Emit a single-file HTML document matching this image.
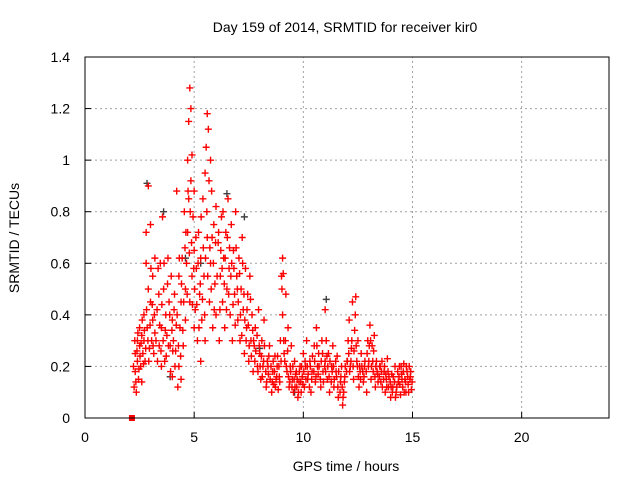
<!DOCTYPE html>
<html><head><meta charset="utf-8"><style>
body{margin:0;background:#fff}
svg text{font-family:"Liberation Sans",sans-serif;font-size:14px;fill:#000}
</style></head><body>
<svg id="chart" width="640" height="480">
<text x="345" y="32" text-anchor="middle">Day 159 of 2014, SRMTID for receiver kir0</text>
<text x="0" y="0" transform="translate(19,238) rotate(-90)" text-anchor="middle">SRMTID / TECUs</text>
<text x="346" y="471" text-anchor="middle">GPS time / hours</text>
<g id="grid"></g><g id="ticks"></g><g id="gray"></g><g id="red"></g>
<rect x="85" y="57" width="524" height="361" fill="none" stroke="#000" stroke-width="1"/>
</svg>
<script>
const xTicks=[0,5,10,15,20];
const yTicks=[0,0.2,0.4,0.6,0.8,1,1.2,1.4];
const yTickLabels=["0","0.2","0.4","0.6","0.8","1","1.2","1.4"];
const redT=[2.25,2.3,2.3,2.35,2.4,2.4,2.45,2.5,2.5,2.55,2.6,2.6,
2.65,2.7,2.7,2.75,2.8,2.8,2.85,2.9,2.9,2.95,3.0,3.0,3.05,3.1,3.1,3.15,3.2,3.2,
3.3,3.35,3.4,3.45,3.5,3.5,3.55,3.6,3.65,3.7,3.75,3.8,3.85,3.9,3.95,4.0,4.0,4.05,4.1,4.15,4.2,
4.25,4.3,4.3,4.35,4.4,4.4,4.45,4.5,4.55,4.6,4.6,
4.65,4.7,4.7,4.75,4.75,4.8,4.8,4.85,4.85,4.9,4.9,4.95,5.0,5.0,5.0,
5.05,5.1,5.15,5.2,5.25,5.3,5.3,5.35,5.4,5.45,5.5,5.5,
5.55,5.6,5.6,5.65,5.7,5.75,5.75,5.8,5.85,5.9,5.95,6.0,6.0,
6.1,6.15,6.2,6.25,6.3,6.35,6.4,6.45,6.5,6.55,6.6,6.65,6.7,6.75,6.8,6.85,6.9,6.95,7.0,
7.05,7.1,7.15,7.2,7.25,7.3,7.35,7.4,7.45,7.5,7.55,7.6,7.65,7.7,7.75,
7.8,7.9,7.95,8.0,8.05,8.1,8.15,8.2,8.3,8.35,8.4,8.45,
8.55,8.6,8.65,8.7,8.75,8.8,8.85,8.9,8.95,
9.0,9.05,9.05,9.1,9.15,9.2,9.25,9.3,
9.35,9.4,9.45,9.5,9.55,9.6,9.65,9.7,9.75,9.8,9.85,9.9,9.95,
10.0,10.05,10.1,10.15,10.2,10.3,10.35,10.4,10.5,10.55,10.6,10.65,10.7,10.8,10.85,10.9,11.0,11.0,
11.05,11.1,11.15,11.2,11.3,11.35,11.4,11.5,11.55,11.6,11.7,11.75,11.8,11.85,11.9,12.0,
12.05,12.1,12.15,12.2,12.25,12.3,12.35,12.4,12.45,12.5,12.55,12.6,12.65,
12.75,12.8,12.9,12.95,13.0,13.05,13.1,13.15,13.2,13.25,13.3,13.35,13.4,13.5,
13.55,13.6,13.7,13.75,13.8,13.85,13.9,14.0,14.05,14.1,14.2,14.25,
14.35,14.4,14.45,14.5,14.55,14.6,14.65,14.7,14.75,14.8,14.85,14.9,14.95];
const redV=[0.12,0.18,0.25,0.1,0.3,0.22,0.15,0.28,0.35,0.2,0.32,0.14,
0.25,0.4,0.3,0.22,0.6,0.72,0.35,0.9,0.5,0.27,0.45,0.75,0.3,0.38,0.55,0.25,0.62,0.33,
0.42,0.58,0.28,0.6,0.2,0.35,0.78,0.5,0.22,0.4,0.32,0.62,0.45,0.28,0.55,0.38,0.16,0.3,0.48,0.26,0.88,
0.12,0.2,0.55,0.35,0.15,0.45,0.62,0.28,0.8,0.5,0.38,
0.6,1.0,0.72,1.15,0.85,1.28,0.45,1.2,0.92,1.02,0.55,0.78,0.35,0.65,0.88,
0.42,0.58,0.3,0.72,0.48,0.22,0.62,0.38,0.85,0.55,0.3,0.95,
1.05,1.18,0.7,1.12,0.45,1.0,0.6,0.88,0.35,0.75,0.52,0.82,0.4,
0.68,0.3,0.55,0.78,0.45,0.62,0.35,0.72,0.5,0.85,0.58,0.4,0.75,0.3,0.65,0.48,0.8,0.55,0.38,
0.62,0.3,0.5,0.7,0.42,0.25,0.58,0.35,0.48,0.22,0.55,0.3,0.4,0.18,0.28,
0.35,0.2,0.42,0.25,0.15,0.3,0.2,0.38,0.12,0.22,0.17,0.28,
0.1,0.18,0.13,0.24,0.15,0.2,0.11,0.16,0.3,
0.55,0.62,0.4,0.3,0.22,0.48,0.18,0.35,
0.12,0.2,0.28,0.15,0.1,0.22,0.17,0.12,0.08,0.14,0.2,0.1,0.16,
0.25,0.12,0.2,0.3,0.15,0.22,0.1,0.18,0.28,0.14,0.35,0.2,0.25,0.12,0.3,0.18,0.42,0.22,
0.3,0.15,0.25,0.1,0.2,0.28,0.12,0.18,0.24,0.08,0.14,0.2,0.05,0.1,0.16,0.22,
0.3,0.38,0.2,0.27,0.45,0.15,0.34,0.47,0.22,0.3,0.12,0.18,0.25,
0.14,0.2,0.1,0.3,0.22,0.36,0.15,0.28,0.18,0.32,0.12,0.22,0.17,0.2,
0.14,0.22,0.18,0.1,0.15,0.23,0.12,0.08,0.17,0.12,0.2,0.1,
0.14,0.2,0.09,0.17,0.12,0.21,0.15,0.1,0.18,0.13,0.2,0.16,0.11];
const redT2=[2.22,2.28,2.33,2.38,2.42,2.47,2.52,2.57,2.62,2.68,2.72,2.78,2.82,2.88,2.92,2.98,3.02,3.08,3.12,3.18,
3.25,3.32,3.38,3.42,3.48,3.52,3.58,3.62,3.68,3.72,3.78,3.82,3.88,3.92,3.98,4.02,4.08,4.12,4.18,
4.22,4.28,4.32,4.38,4.42,4.48,4.52,4.58,4.62,4.68,4.72,4.78,4.82,4.88,4.92,4.98,
5.02,5.08,5.12,5.18,5.22,5.28,5.32,5.38,5.42,5.48,5.52,5.58,5.62,5.68,5.72,5.78,5.82,5.88,5.92,5.98,
6.05,6.12,6.18,6.22,6.28,6.32,6.38,6.42,6.48,6.52,6.58,6.62,6.68,6.72,6.78,6.82,6.88,6.92,6.98,
7.02,7.08,7.12,7.18,7.22,7.28,7.32,7.38,7.42,7.48,7.52,7.58,7.62,7.68,7.72,7.78,7.82,7.88,7.92,7.98,
8.02,8.08,8.12,8.18,8.22,8.28,8.32,8.38,8.42,8.48,8.52,8.58,8.62,8.68,8.72,8.78,8.82,8.88,8.92,8.98,
9.02,9.08,9.12,9.18,9.22,9.28,9.32,9.38,9.42,9.48,9.52,9.58,9.62,9.68,9.72,9.78,9.82,9.88,9.92,9.98,
10.02,10.08,10.12,10.18,10.22,10.28,10.32,10.38,10.42,10.48,10.52,10.58,10.62,10.68,10.72,10.78,10.82,10.88,10.92,10.98,
11.02,11.08,11.12,11.18,11.22,11.28,11.32,11.38,11.42,11.48,11.52,11.58,11.62,11.68,11.72,11.78,11.82,11.88,11.92,11.98,
12.02,12.08,12.12,12.18,12.22,12.28,12.32,12.38,12.42,12.48,12.52,12.58,12.62,12.68,12.72,12.78,12.82,12.88,12.92,12.98,
13.02,13.08,13.12,13.18,13.22,13.28,13.32,13.38,13.42,13.48,13.52,13.58,13.62,13.68,13.72,13.78,13.82,13.88,13.92,13.98,
14.02,14.08,14.12,14.18,14.22,14.28,14.32,14.38,14.42,14.48,14.52,14.58,14.62,14.68,14.72,14.78,14.82,14.88,14.92,14.98];
const redV2=[0.2,0.3,0.14,0.26,0.33,0.19,0.24,0.29,0.38,0.21,0.34,0.27,0.42,0.3,0.22,0.36,0.58,0.44,0.28,0.4,
0.3,0.22,0.48,0.36,0.26,0.44,0.3,0.6,0.34,0.24,0.52,0.28,0.4,0.18,0.34,0.26,0.42,0.2,0.36,
0.4,0.28,0.62,0.24,0.52,0.34,0.45,0.66,0.72,0.48,0.88,0.64,0.8,0.68,0.44,0.58,
0.5,0.7,0.44,0.6,0.35,0.52,0.78,0.46,0.66,0.4,0.62,0.8,0.55,0.92,0.66,0.5,0.7,0.6,0.42,0.68,
0.55,0.72,0.42,0.65,0.58,0.8,0.52,0.62,0.42,0.7,0.48,0.66,0.55,0.6,0.44,0.58,0.36,0.66,0.5,
0.45,0.56,0.4,0.32,0.6,0.48,0.38,0.3,0.42,0.36,0.28,0.46,0.24,0.34,0.3,0.22,0.26,0.32,0.18,0.28,
0.2,0.24,0.16,0.22,0.28,0.18,0.14,0.2,0.24,0.15,0.2,0.14,0.22,0.18,0.12,0.16,0.24,0.2,0.14,0.22,
0.5,0.56,0.25,0.3,0.2,0.26,0.16,0.14,0.18,0.12,0.2,0.15,0.12,0.18,0.15,0.1,0.18,0.14,0.2,0.13,
0.18,0.22,0.15,0.2,0.17,0.12,0.2,0.15,0.24,0.18,0.22,0.16,0.28,0.17,0.2,0.15,0.22,0.25,0.14,0.2,
0.18,0.24,0.2,0.16,0.22,0.14,0.18,0.2,0.15,0.22,0.16,0.12,0.18,0.1,0.16,0.12,0.08,0.14,0.2,0.18,
0.22,0.25,0.18,0.22,0.3,0.2,0.26,0.4,0.28,0.2,0.16,0.2,0.15,0.2,0.18,0.16,0.22,0.18,0.25,0.2,
0.28,0.3,0.2,0.22,0.26,0.16,0.2,0.18,0.14,0.16,0.2,0.18,0.12,0.15,0.2,0.17,0.12,0.18,0.16,0.14,
0.12,0.1,0.16,0.14,0.08,0.12,0.18,0.16,0.13,0.2,0.15,0.18,0.1,0.14,0.2,0.16,0.1,0.15,0.18,0.14];
const grayT=[2.84,3.6,3.9,4.6,5.3,6.5,7.3,8.0,9.6,11.05];
const grayV=[0.91,0.8,0.16,0.62,0.6,0.87,0.78,0.27,0.1,0.46];
const squareT=[2.15];
const squareV=[0];

const NS="http://www.w3.org/2000/svg";
const X0=85,X1=609,Y0=418,Y1=57,XMAX=24,YMAX=1.4;
function xs(t){return X0+(X1-X0)*t/XMAX;}
function ys(v){return Y0-(Y0-Y1)*v/YMAX;}
function mk(tag,attrs,parent){const e=document.createElementNS(NS,tag);for(const k in attrs)e.setAttribute(k,attrs[k]);parent.appendChild(e);return e;}
const grid=document.getElementById('grid'),ticks=document.getElementById('ticks');
xTicks.forEach((t,i)=>{
  const x=xs(t);
  if(t>0){const g=mk('line',{x1:x,x2:x,y1:Y0,y2:Y1,stroke:'#a0a0a0','stroke-dasharray':'2,3'},grid);
  
  }
  const l=mk('line',{x1:x,x2:x,y1:Y0,y2:Y0-6,stroke:'#000'},ticks);
  
  
  const tx=mk('text',{x:x,y:Y0+24,'text-anchor':'middle'},ticks);tx.textContent=String(t);
  
  
});
yTicks.forEach((v,i)=>{
  const y=ys(v);
  if(v>0&&v<YMAX){const g=mk('line',{x1:X0,x2:X1,y1:y,y2:y,stroke:'#a0a0a0','stroke-dasharray':'2,3'},grid);
  
  }
  const l=mk('line',{x1:X0,x2:X0+6,y1:y,y2:y,stroke:'#000'},ticks);
  
  
  const tx=mk('text',{x:X0-15,y:y+5,'text-anchor':'end'},ticks);tx.textContent=yTickLabels[i];
  
  
});
function plus(g,t,v,color,name){
  const x=xs(t),y=ys(v);
  const p=mk('path',{d:`M${x-3.5},${y}H${x+3.5}M${x},${y-3.5}V${y+3.5}`,stroke:color,'stroke-width':1.4,fill:'none'},g);
  
  
}
const gG=document.getElementById('gray'),gR=document.getElementById('red');
grayT.forEach((t,i)=>plus(gG,t,grayV[i],'#404040','gray-point'));
redT.forEach((t,i)=>plus(gR,t,redV[i],'#ff0000','red-point'));
redT2.forEach((t,i)=>plus(gR,t,redV2[i],'#ff0000','red-point'));
squareT.forEach((t,i)=>{
  const s=mk('rect',{x:xs(t)-3,y:ys(squareV[i])-3,width:6,height:6,fill:'#ff0000'},gR);
  
  
});
</script>
</body></html>
